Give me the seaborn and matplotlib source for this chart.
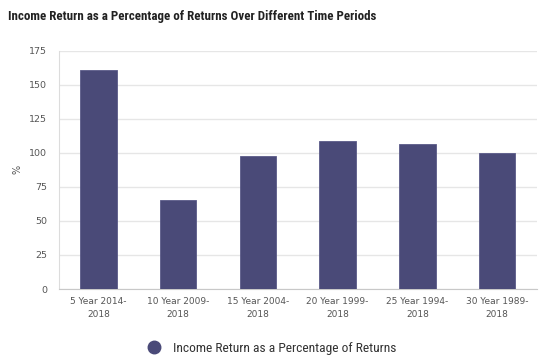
import matplotlib
matplotlib.use("Agg")
import matplotlib.pyplot as plt
import seaborn as sns
import pandas as pd
import numpy as np
from matplotlib.lines import Line2D

categories = ["5 Year 2014-\n2018", "10 Year 2009-\n2018", "15 Year 2004-\n2018",
              "20 Year 1999-\n2018", "25 Year 1994-\n2018", "30 Year 1989-\n2018"]
values = [161, 65, 98, 109, 106.5, 99.5]
series_name = "Income Return as a Percentage of Returns"
title = "Income Return as a Percentage of Returns Over Different Time Periods"
y_ticks = [0, 25, 50, 75, 100, 125, 150, 175]

sns.set_style("white")
cond = ["Roboto Condensed", "Barlow Condensed", "DejaVu Sans"]
plt.rcParams["font.family"] = ["DejaVu Sans"]

df = pd.DataFrame({"period": categories, "value": values})
bar_color = "#4a4a78"

fig = plt.figure(figsize=(5.5, 3.64), dpi=100)
ax = fig.add_axes([0.1064, 0.206, 0.8700, 0.655])
sns.barplot(data=df, x="period", y="value", color=bar_color, width=0.46,
            saturation=1, ax=ax, edgecolor="#5a5a88", linewidth=0.6, zorder=3)

ax.set_ylim(0, 175)
ax.set_xlim(-0.5, len(categories) - 0.5)
ax.set_yticks(y_ticks)
ax.set_yticklabels([str(t) for t in y_ticks], fontsize=6.8, color="#555555")
ax.yaxis.grid(True, color="#e6e6e6", linewidth=1, zorder=0)
ax.tick_params(axis="y", length=5, color="#d8d8d8", width=1, pad=3)
ax.set_xticks(range(len(categories)))
ax.set_xticklabels(categories, fontsize=6.5, color="#555555", linespacing=1.5)
ax.set_xticks(np.arange(-0.5, len(categories), 1.0), minor=True)
ax.tick_params(axis="x", which="major", length=0, pad=6)
ax.tick_params(axis="x", which="minor", length=5, color="#d0d0d0", width=1)
ax.set_xlabel("")
ax.set_ylabel("%", fontsize=7, color="#555555", labelpad=5)

for s in ["top", "right"]:
    ax.spines[s].set_visible(False)
ax.spines["left"].set_color("#dcdcdc")
ax.spines["bottom"].set_color("#c8c8c8")

fig.text(0.015, 0.955, title, fontsize=9.4, fontweight="bold", color="#222222",
         family=cond, va="center", ha="left")

handle = Line2D([], [], marker="o", linestyle="none", markersize=9,
                markerfacecolor=bar_color, markeredgecolor=bar_color)
fig.legend([handle], [series_name], loc="center", bbox_to_anchor=(0.488, 0.043),
           frameon=False, handletextpad=0.4, prop={"family": cond, "size": 9.7},
           labelcolor="#333333")

fig.savefig("out.png", dpi=100)
